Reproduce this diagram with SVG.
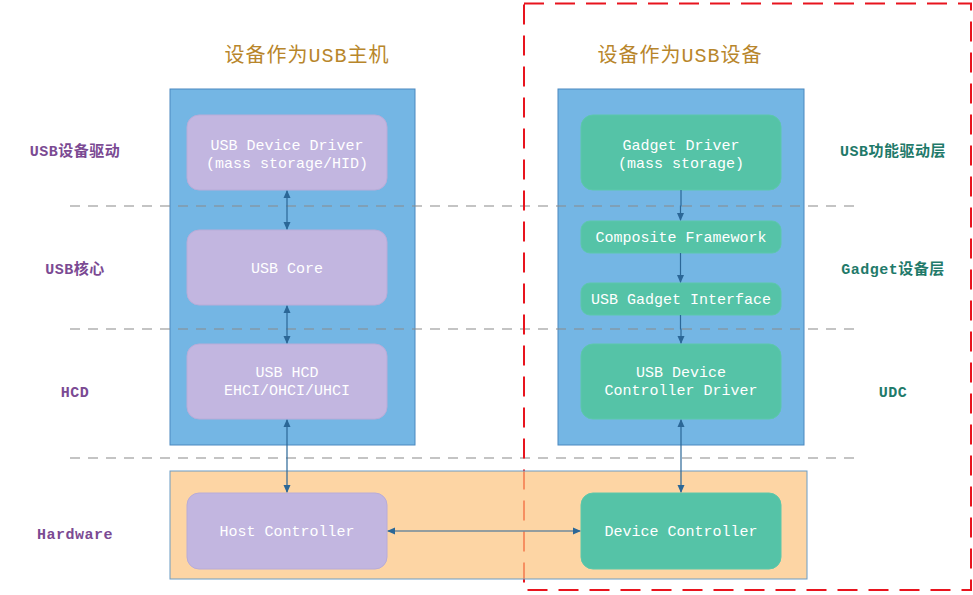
<svg xmlns="http://www.w3.org/2000/svg" width="973" height="595" viewBox="0 0 973 595">
<style>
.panel{fill:#74b6e4;stroke:#4a88bf;stroke-width:1}
.pb{fill:#c2b6e0;stroke:#b8acd8;stroke-width:1}
.gb{fill:#55c3a7;stroke:#5cc8ab;stroke-width:1}
.bt{font-family:"Liberation Mono","Noto Sans CJK SC",monospace;font-size:15px;fill:#ffffff;text-anchor:middle}
.title{font-family:"Liberation Mono","Noto Sans CJK SC",monospace;font-size:20px;fill:#b8862b;text-anchor:middle;letter-spacing:1px}
.ll{font-family:"Liberation Mono","Noto Sans CJK SC",monospace;font-size:15px;font-weight:bold;fill:#7b4a93;text-anchor:middle;letter-spacing:0.5px}
.rl{font-family:"Liberation Mono","Noto Sans CJK SC",monospace;font-size:15px;font-weight:bold;fill:#1f7a6a;text-anchor:middle;letter-spacing:0.5px}
.sep{stroke:#8a8a8a;stroke-width:1.2;stroke-dasharray:10 8;fill:none}
.con{stroke:#2b6797;stroke-width:1.2;fill:none}
</style>
<defs>
<marker id="ah" markerWidth="8" markerHeight="8" refX="7" refY="4" orient="auto-start-reverse" markerUnits="userSpaceOnUse">
<path d="M0,0.5 L8,4 L0,7.5 Z" fill="#2b6797"/>
</marker>
</defs>
<rect width="973" height="595" fill="#ffffff"/>

<text class="title" x="307" y="62">设备作为USB主机</text>
<text class="title" x="680" y="62">设备作为USB设备</text>

<g id="layer-labels">
<text class="ll" x="75" y="156">USB设备驱动</text>
<text class="ll" x="75" y="274">USB核心</text>
<text class="ll" x="75" y="397">HCD</text>
<text class="ll" x="75" y="539">Hardware</text>
<text class="rl" x="893" y="156">USB功能驱动层</text>
<text class="rl" x="893" y="274">Gadget设备层</text>
<text class="rl" x="893" y="397">UDC</text>
</g>

<g id="host-panel"><rect class="panel" x="170" y="89" width="245" height="356"/></g>
<g id="device-panel"><rect class="panel" x="558" y="89" width="246" height="356"/></g>

<g id="separators">
<line class="sep" x1="70" y1="206" x2="855" y2="206"/>
<line class="sep" x1="70" y1="329" x2="855" y2="329"/>
<line class="sep" x1="70" y1="458" x2="855" y2="458"/>
</g>

<g id="device-frame"><rect x="524" y="3.5" width="447" height="586.5" fill="none" stroke="#e8141e" stroke-width="2" stroke-dasharray="20 11"/></g>

<g id="hardware-panel"><rect x="170" y="471" width="637" height="108" fill="#fcc37e" fill-opacity="0.7" stroke="#6a9cc4" stroke-width="1"/></g>

<g id="usb-device-driver"><rect class="pb" x="187" y="115" width="200" height="75" rx="12"/>
<text class="bt" x="287" y="150">USB Device Driver</text><text class="bt" x="287" y="168">(mass storage/HID)</text></g>
<g id="usb-core"><rect class="pb" x="187" y="230" width="200" height="75" rx="12"/>
<text class="bt" x="287" y="273">USB Core</text></g>
<g id="usb-hcd"><rect class="pb" x="187" y="344" width="200" height="75" rx="12"/>
<text class="bt" x="287" y="377">USB HCD</text><text class="bt" x="287" y="395">EHCI/OHCI/UHCI</text></g>
<g id="host-controller"><rect class="pb" x="187" y="493" width="200" height="76" rx="12"/>
<text class="bt" x="287" y="536">Host Controller</text></g>

<g id="gadget-driver"><rect class="gb" x="581" y="115" width="200" height="75" rx="12"/>
<text class="bt" x="681" y="150">Gadget Driver</text><text class="bt" x="681" y="168">(mass storage)</text></g>
<g id="composite-framework"><rect class="gb" x="581" y="221" width="200" height="32" rx="9"/>
<text class="bt" x="681" y="242">Composite Framework</text></g>
<g id="gadget-interface"><rect class="gb" x="581" y="283" width="200" height="32" rx="9"/>
<text class="bt" x="681" y="304">USB Gadget Interface</text></g>
<g id="udc-driver"><rect class="gb" x="581" y="344" width="200" height="75" rx="12"/>
<text class="bt" x="681" y="377">USB Device</text><text class="bt" x="681" y="395">Controller Driver</text></g>
<g id="device-controller"><rect class="gb" x="581" y="493" width="200" height="76" rx="12"/>
<text class="bt" x="681" y="536">Device Controller</text></g>

<g id="connectors">
<line class="con" x1="287" y1="191" x2="287" y2="229" marker-start="url(#ah)" marker-end="url(#ah)"/>
<line class="con" x1="287" y1="306" x2="287" y2="343" marker-start="url(#ah)" marker-end="url(#ah)"/>
<line class="con" x1="287" y1="420" x2="287" y2="492" marker-start="url(#ah)" marker-end="url(#ah)"/>
<line class="con" x1="388" y1="531" x2="580" y2="531" marker-start="url(#ah)" marker-end="url(#ah)"/>
<polyline class="con" points="681,190 681,206 680.5,206 680.5,220" marker-end="url(#ah)"/>
<line class="con" x1="680.5" y1="253" x2="680.5" y2="282" marker-end="url(#ah)"/>
<polyline class="con" points="680.5,315 680.5,329 681,329 681,343" marker-end="url(#ah)"/>
<line class="con" x1="681" y1="420" x2="681" y2="492" marker-start="url(#ah)" marker-end="url(#ah)"/>
</g>
</svg>
